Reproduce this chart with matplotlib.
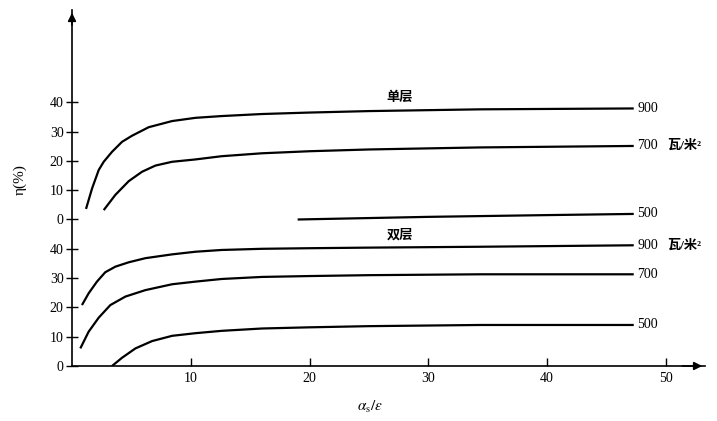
import matplotlib.pyplot as plt
import numpy as np

plt.rcParams['font.family'] = ['Liberation Serif', 'Noto Sans CJK SC']
plt.rcParams['mathtext.fontset'] = 'stix'

# ---- data (eta in %, per panel) ----
# 单层 (single layer), drawn shifted up by panel_shift
x_top900 = [1.18, 1.69, 2.25, 2.67, 3.37, 4.21, 5.06, 6.46, 8.43, 10.4, 12.6, 16, 20, 25, 34.4, 47.3]
y_top900 = [3.6, 10.6, 16.9, 19.7, 23.1, 26.5, 28.6, 31.5, 33.6, 34.7, 35.3, 36.0, 36.5, 37.0, 37.6, 37.9]
x_top700 = [2.67, 3.65, 4.78, 5.9, 7.02, 8.43, 10.4, 12.6, 16, 20, 25, 34.4, 47.3]
y_top700 = [3.2, 8.4, 13.1, 16.3, 18.4, 19.7, 20.5, 21.6, 22.6, 23.3, 23.9, 24.6, 25.1]
x_top500 = [19.0, 30, 40, 47.3]
y_top500 = [0, 0.9, 1.5, 1.9]

# 双层 (double layer)
x_bot900 = [0.84, 1.4, 2.1, 2.8, 3.65, 4.78, 6.18, 8.43, 10.4, 12.6, 16, 20, 25, 34.4, 47.3]
y_bot900 = [20.8, 24.8, 28.8, 32.0, 33.9, 35.4, 36.8, 38.1, 39.0, 39.6, 40.0, 40.2, 40.4, 40.7, 41.2]
x_bot700 = [0.7, 1.4, 2.25, 3.23, 4.5, 6.18, 8.43, 10.4, 12.6, 16, 20, 25, 34.4, 47.3]
y_bot700 = [6.0, 11.7, 16.5, 20.8, 23.7, 25.9, 27.9, 28.8, 29.7, 30.4, 30.7, 31.0, 31.3, 31.3]
x_bot500 = [3.37, 4.21, 5.34, 6.74, 8.43, 10.4, 12.6, 16, 20, 25, 34.4, 47.3]
y_bot500 = [0, 2.8, 6.0, 8.5, 10.3, 11.2, 12.0, 12.8, 13.2, 13.6, 14.0, 14.0]

panel_shift = 50
y_ticks = [0, 10, 20, 30, 40]
x_ticks = [10, 20, 30, 40, 50]

fig = plt.figure(figsize=(7.17, 4.21), dpi=100)
W, H = 717, 421
ax = fig.add_axes([72 / W, (H - 366) / H, (705 - 72) / W, (366 - 10) / H])

top = [(x_top900, y_top900, '900', ''), (x_top700, y_top700, '700', '瓦/米²'),
       (x_top500, y_top500, '500', '')]
bot = [(x_bot900, y_bot900, '900', '瓦/米²'), (x_bot700, y_bot700, '700', ''),
       (x_bot500, y_bot500, '500', '')]

for shift, group in [(panel_shift, top), (0, bot)]:
    for xs, ys, lab, unit in group:
        yy = np.array(ys) + shift
        ax.plot(xs, yy, color='black', lw=1.6, solid_capstyle='butt',
                solid_joinstyle='round')
        ax.text(xs[-1] + 0.3, yy[-1], lab, fontsize=10, va='center', ha='left')
        if unit:
            ax.text(xs[-1] + 2.8, yy[-1], unit, fontsize=9.5, va='center',
                    ha='left', fontweight='bold', clip_on=False)

ax.text(27.6, 91.5, '单层', fontsize=9.5, fontweight='bold', ha='center', va='center')
ax.text(27.6, 44.7, '双层', fontsize=9.5, fontweight='bold', ha='center', va='center')

ax.set_xlim(0, 53.3)
ax.set_ylim(0, 121.5)
for s in ['top', 'right']:
    ax.spines[s].set_visible(False)
ax.spines['left'].set_linewidth(1.2)
ax.spines['bottom'].set_linewidth(1.2)

yt = y_ticks + [t + panel_shift for t in y_ticks]
ax.set_yticks(yt)
ax.set_yticklabels([str(t) for t in y_ticks] * 2, fontsize=10)
ax.set_xticks(x_ticks)
ax.set_xticklabels([str(t) for t in x_ticks], fontsize=10)
ax.tick_params(axis='y', direction='inout', length=8, width=1, pad=2)
ax.tick_params(axis='x', direction='in', length=6, width=1, pad=4)

# axis arrows
ax.annotate('', xy=(0, 1.0), xytext=(0, 0.95), xycoords='axes fraction',
            arrowprops=dict(arrowstyle='-|>', color='black', lw=1.2, mutation_scale=12))
ax.annotate('', xy=(1.0, 0), xytext=(0.96, 0), xycoords='axes fraction',
            arrowprops=dict(arrowstyle='-|>', color='black', lw=1.2, mutation_scale=12))

fig.text(20 / W, 1 - 180 / H, 'η(%)', rotation=90, fontsize=11, ha='center', va='center')
fig.text(370 / W, 1 - 407 / H, r'$\alpha_{\rm s}/\varepsilon$', fontsize=11,
         ha='center', va='center')

fig.savefig('out.png', dpi=100)
